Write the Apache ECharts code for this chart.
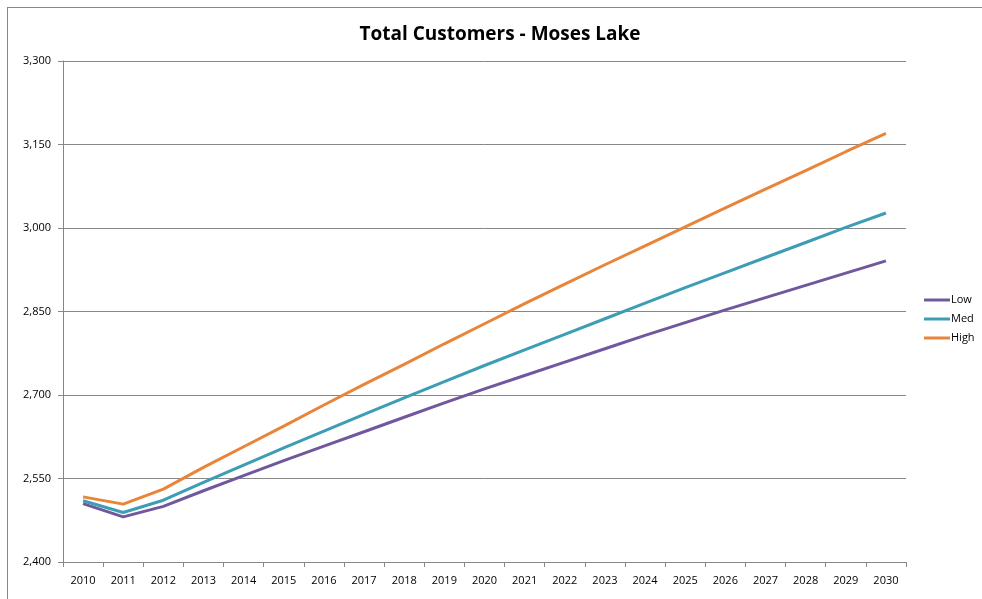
<!DOCTYPE html>
<html>
<head>
<meta charset="utf-8">
<script src="https://cdn.jsdelivr.net/npm/echarts@6/dist/echarts.min.js"></script>
<style>
  html, body { margin: 0; padding: 0; background: #fff; }
  #frame { position: absolute; left: 7px; top: 7px; width: 990px; height: 600px;
           border-left: 1px solid #888; border-top: 1px solid #888; }
  #chart { width: 982px; height: 599px; position: absolute; left: 0; top: 0; }
</style>
</head>
<body>
<div id="frame"></div>
<div id="chart"></div>
<script>
// years on the x axis
const years = ['2010','2011','2012','2013','2014','2015','2016','2017','2018','2019','2020',
               '2021','2022','2023','2024','2025','2026','2027','2028','2029','2030'];

// customers per scenario
const lowVals  = [2505, 2481, 2500, 2528, 2555, 2582, 2608, 2634, 2660, 2686, 2711,
                  2735, 2759, 2783, 2807, 2830, 2853, 2875, 2897, 2919, 2941];
const medVals  = [2510, 2489, 2511, 2543, 2574, 2605, 2635, 2665, 2695, 2724, 2753,
                  2781, 2809, 2837, 2865, 2893, 2920, 2947, 2974, 3001, 3027];
const highVals = [2517, 2504, 2531, 2570, 2607, 2644, 2682, 2719, 2755, 2792, 2828,
                  2864, 2899, 2934, 2968, 3002, 3036, 3070, 3103, 3137, 3170];

const myChart = echarts.init(document.getElementById('chart'), null, { renderer: 'canvas' });

const axisGray = '#878787';
const fontFam = '"Open Sans", "Noto Sans", sans-serif';

function lineSeries(name, data, color) {
    return {
        name: name,
        type: 'line',
        data: data,
        showSymbol: false,
        symbol: 'none',
        lineStyle: { width: 3, color: color },
        itemStyle: { color: color }
    };
}

let option = {
    animation: false,
    title: {
        text: 'Total Customers - Moses Lake',
        left: 495,
        textAlign: 'center',
        top: 20,
        textStyle: { fontFamily: fontFam, fontSize: 19, fontWeight: 'bold', color: '#000' }
    },
    legend: {
        orient: 'vertical',
        left: 919,
        top: 288,
        icon: 'rect',
        itemWidth: 26,
        itemHeight: 3,
        itemGap: 5,
        textStyle: { fontFamily: fontFam, fontSize: 11, color: '#000', lineHeight: 14, padding: [0, 0, 0, -4] },
        data: ['Low', 'Med', 'High']
    },
    grid: { left: 63, right: 76, top: 61, bottom: 37, containLabel: false },
    xAxis: {
        type: 'category',
        data: years,
        boundaryGap: true,
        axisLine: { lineStyle: { color: axisGray, width: 1 } },
        axisTick: { show: true, length: 5, lineStyle: { color: axisGray } },
        axisLabel: { fontFamily: fontFam, fontSize: 11, color: '#000', margin: 13, interval: 0 }
    },
    yAxis: {
        type: 'value',
        min: 2400,
        max: 3300,
        interval: 150,
        axisLine: { show: true, lineStyle: { color: axisGray, width: 1 } },
        axisTick: { show: true, length: 5, lineStyle: { color: axisGray } },
        axisLabel: {
            fontFamily: fontFam, fontSize: 11, color: '#000', margin: 12,
            formatter: function (v) { return v.toLocaleString('en-US'); }
        },
        splitLine: { show: true, lineStyle: { color: axisGray, width: 1 } }
    },
    series: [
        lineSeries('Low', lowVals, '#71589E'),
        lineSeries('Med', medVals, '#3C9DB5'),
        lineSeries('High', highVals, '#E8853A')
    ]
};
myChart.setOption(option);
</script>
</body>
</html>
